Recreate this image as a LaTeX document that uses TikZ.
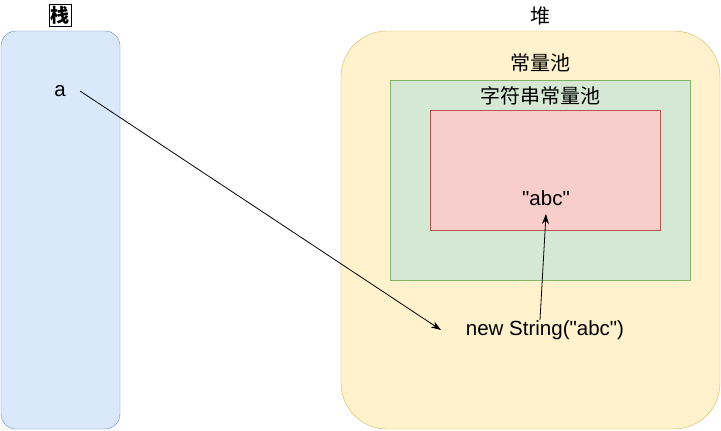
\documentclass[tikz,border=0pt]{standalone}
\usepackage{fontspec}
\setmainfont{Liberation Sans}[Ligatures=TeXOff]
\newfontfamily\cjk{Noto Sans CJK SC}
\usetikzlibrary{arrows.meta}
\definecolor{bluefill}{HTML}{DAE8FC}
\definecolor{bluedraw}{HTML}{6C8EBF}
\definecolor{yelfill}{HTML}{FFF2CC}
\definecolor{yeldraw}{HTML}{D6B656}
\definecolor{grnfill}{HTML}{D5E8D4}
\definecolor{grndraw}{HTML}{82B366}
\definecolor{redfill}{HTML}{F8CECC}
\definecolor{reddraw}{HTML}{B85450}
\tikzset{
  lbl/.style={inner sep=0pt, font=\fontsize{20.5}{22}\selectfont},
  cjklbl/.style={inner sep=0pt, font=\cjk\fontsize{20}{22}\selectfont},
  arr/.style={-{Stealth[length=10pt,width=7pt]}, line width=0.8pt}
}
\begin{document}
\begin{tikzpicture}[x=1pt,y=-1pt]
\useasboundingbox (0,0) rectangle (721,431);
\draw[fill=bluefill, draw=bluedraw, rounded corners=15pt] (1,31) rectangle (120,429);
\draw[fill=yelfill, draw=yeldraw, rounded corners=46pt] (341,31) rectangle (720,429);
\draw[fill=grnfill, draw=grndraw] (390,80) rectangle (690,280);
\draw[fill=redfill, draw=reddraw] (430,110) rectangle (660,230);
\node[draw=black, line width=0.8pt, inner xsep=1.5pt, inner ysep=2pt, font=\cjk\bfseries\fontsize{19}{21}\selectfont] (zhan) at (60,15) {栈};
\node[cjklbl] (dui) at (540,16) {堆};
\node[cjklbl] (clc) at (540,63) {常量池};
\node[cjklbl] (zfc) at (540,96) {字符串常量池};
\node[lbl] (a) at (60,91) {a};
\node[lbl] (abc) at (546,198) {"abc"};
\node[lbl] (ns) at (545,330) {new String("abc")};
\coordinate (astart) at (80,91);
\coordinate (aend) at (441,330);
\coordinate (nsup) at (540,320);
\coordinate (abcdown) at (546,214);
\draw[arr] (astart) -- (aend);
\draw[arr] (nsup) -- (abcdown);
\end{tikzpicture}
\end{document}
